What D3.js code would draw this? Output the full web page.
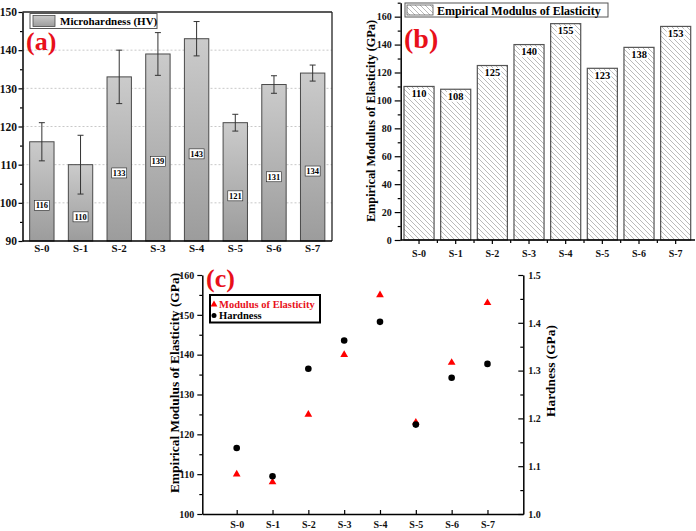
<!DOCTYPE html>
<html>
<head>
<meta charset="utf-8">
<script src="https://cdn.jsdelivr.net/npm/d3@7"></script>
<style>
  body { margin: 0; background: #fff; }
  svg { display: block; font-family: "Liberation Serif", "Times New Roman", serif; font-weight: bold; }
</style>
</head>
<body>
<svg id="canvas" width="696" height="531"></svg>
<script>
// samples
let samples = ['S-0', 'S-1', 'S-2', 'S-3', 'S-4', 'S-5', 'S-6', 'S-7']
// (a) microhardness HV with error
let hvValues = [116, 110, 133, 139, 143, 121, 131, 134]
let hvErrors = [5, 7.7, 7, 5.6, 4.5, 2.2, 2.3, 2.1]
// (b) empirical modulus of elasticity (GPa)
let modulusValues = [110, 108, 125, 140, 155, 123, 138, 153]
// (c) hardness in GPa
let hardnessGPa = [1.138, 1.079, 1.304, 1.363, 1.402, 1.187, 1.285, 1.314]

let ticksA = [90, 100, 110, 120, 130, 140, 150]
let ticksB = [0, 20, 40, 60, 80, 100, 120, 140, 160]
let ticksCLeft = [100, 110, 120, 130, 140, 150, 160]
let ticksCRight = [1.0, 1.1, 1.2, 1.3, 1.4, 1.5]

let canvas = d3.select('#canvas')
let red = '#e8101a'

let defs = canvas.append('defs')
let grad = defs.append('linearGradient').attr('id', 'barGrad')
  .attr('x1', 0).attr('y1', 0).attr('x2', 0).attr('y2', 1)
grad.append('stop').attr('offset', '0%').attr('stop-color', '#cbcbcb')
grad.append('stop').attr('offset', '100%').attr('stop-color', '#9c9c9c')
let hatch = defs.append('pattern').attr('id', 'hatch')
  .attr('patternUnits', 'userSpaceOnUse').attr('width', 5).attr('height', 5)
hatch.append('path').attr('d', 'M0,0L5,5M-1,4L1,6M4,-1L6,1')
  .attr('stroke', '#a8a8a8').attr('stroke-width', 0.8)

let styleAxis = (g, size) => {
  g.attr('font-family', null).attr('font-size', null)
  g.selectAll('path').attr('stroke', '#000').attr('stroke-width', 1.5)
  g.selectAll('line').attr('stroke', '#000').attr('stroke-width', 1.2)
  g.selectAll('text').attr('font-family', '"Liberation Serif", serif')
    .attr('font-weight', 'bold').attr('font-size', size).attr('fill', '#111')
}

let minorVals = (lo, hi, step) => d3.range(lo, hi + step / 2, step)

// ---------------- panel (a) ----------------
let drawA = () => {
  let xA = d3.scaleBand().domain(samples).range([22.5, 332]).paddingInner(0.37).paddingOuter(0.185)
  let yA = d3.scaleLinear().domain([90, 150]).range([241, 12])

  canvas.append('g').selectAll('line')
    .data([100, 110, 120, 130, 140]).enter().append('line')
    .attr('x1', 22.5).attr('x2', 332)
    .attr('y1', d => yA(d)).attr('y2', d => yA(d))
    .attr('stroke', '#c8c8c8').attr('stroke-dasharray', '2,2').attr('stroke-width', 1)

  canvas.append('g').selectAll('rect')
    .data(hvValues).enter().append('rect')
    .attr('x', (d, i) => xA(samples[i]))
    .attr('width', xA.bandwidth())
    .attr('y', d => yA(d))
    .attr('height', d => yA(90) - yA(d))
    .attr('fill', 'url(#barGrad)')
    .attr('stroke', '#4a4a4a').attr('stroke-width', 1)

  // error bars
  let eb = canvas.append('g').attr('stroke', '#333').attr('stroke-width', 1)
  hvValues.forEach((v, i) => {
    let cx = xA(samples[i]) + xA.bandwidth() / 2
    eb.append('line').attr('x1', cx).attr('x2', cx).attr('y1', yA(v + hvErrors[i])).attr('y2', yA(v - hvErrors[i]))
    eb.append('line').attr('x1', cx - 3).attr('x2', cx + 3).attr('y1', yA(v + hvErrors[i])).attr('y2', yA(v + hvErrors[i]))
    eb.append('line').attr('x1', cx - 3).attr('x2', cx + 3).attr('y1', yA(v - hvErrors[i])).attr('y2', yA(v - hvErrors[i]))
  })

  // value labels
  let lab = canvas.append('g')
  hvValues.forEach((v, i) => {
    let cx = xA(samples[i]) + xA.bandwidth() / 2
    let cy = (yA(v) + yA(90)) / 2 + 14
    lab.append('rect').attr('x', cx - 7.5).attr('y', cy - 5).attr('width', 15).attr('height', 10)
      .attr('fill', '#fff').attr('stroke', '#222').attr('stroke-width', 0.6)
    lab.append('text').attr('x', cx).attr('y', cy + 3).attr('text-anchor', 'middle')
      .attr('font-size', 8.5).text(v)
  })

  // frame
  canvas.append('line').attr('x1', 22.5).attr('x2', 332).attr('y1', 12).attr('y2', 12).attr('stroke', '#222').attr('stroke-width', 1.3)
  canvas.append('line').attr('x1', 332).attr('x2', 332).attr('y1', 12).attr('y2', 241).attr('stroke', '#222').attr('stroke-width', 1.3)

  let minor = canvas.append('g').attr('transform', 'translate(22.5,0)')
    .call(d3.axisLeft(yA).tickValues(minorVals(95, 145, 10)).tickSize(2.5).tickFormat(''))
  minor.select('.domain').remove()
  styleAxis(minor, 11)
  let ax = canvas.append('g').attr('transform', 'translate(22.5,0)')
    .call(d3.axisLeft(yA).tickValues(ticksA).tickSize(4).tickSizeOuter(0).tickPadding(1.5))
  styleAxis(ax, 11.5)
  let bx = canvas.append('g').attr('transform', 'translate(0,241)')
    .call(d3.axisBottom(xA).tickSize(0).tickPadding(3.5))
  styleAxis(bx, 11)
  bx.select('.domain').attr('d', 'M22.5,0H332')

  // legend
  let lg = canvas.append('g')
  lg.append('rect').attr('x', 30).attr('y', 13.5).attr('width', 127).attr('height', 15)
    .attr('fill', '#fff').attr('stroke', '#555').attr('stroke-width', 1)
  lg.append('rect').attr('x', 33).attr('y', 15.5).attr('width', 22).attr('height', 11)
    .attr('fill', 'url(#barGrad)').attr('stroke', '#4a4a4a').attr('stroke-width', 0.8)
  lg.append('text').attr('x', 60).attr('y', 25).attr('font-size', 11).text('Microhardness (HV)')

  canvas.append('text').attr('x', 26).attr('y', 50).attr('text-anchor', 'start')
    .attr('fill', red).attr('font-size', 26).text('(a)')
}

// ---------------- panel (b) ----------------
let drawB = () => {
  let xB = d3.scaleBand().domain(samples).range([400.7, 694]).paddingInner(0.18).paddingOuter(0.09)
  let yB = d3.scaleLinear().domain([0, 170]).range([240, 2.7])

  canvas.append('g').selectAll('rect')
    .data(modulusValues).enter().append('rect')
    .attr('x', (d, i) => xB(samples[i]))
    .attr('width', xB.bandwidth())
    .attr('y', d => yB(d))
    .attr('height', d => yB(0) - yB(d))
    .attr('fill', 'url(#hatch)')
    .attr('stroke', '#555').attr('stroke-width', 1.2)

  let lab = canvas.append('g')
  modulusValues.forEach((v, i) => {
    let cx = xB(samples[i]) + xB.bandwidth() / 2
    let ty = yB(v) + 10.5
    lab.append('rect').attr('x', cx - 9).attr('y', ty - 8).attr('width', 18).attr('height', 10).attr('fill', '#fff')
    lab.append('text').attr('x', cx).attr('y', ty).attr('text-anchor', 'middle').attr('font-size', 10.5).text(v)
  })

  let minor = canvas.append('g').attr('transform', 'translate(400.7,0)')
    .call(d3.axisLeft(yB).tickValues(minorVals(10, 170, 20)).tickSize(3).tickFormat(''))
  minor.select('.domain').remove()
  styleAxis(minor, 10)
  let ax = canvas.append('g').attr('transform', 'translate(400.7,0)')
    .call(d3.axisLeft(yB).tickValues(ticksB).tickSize(6).tickSizeOuter(0).tickPadding(3))
  styleAxis(ax, 10)

  let bounds = samples.slice(1).map(s => xB(s) - xB.step() * xB.paddingInner() / 2)
  let bminor = canvas.append('g').attr('transform', 'translate(0,240)')
  bminor.selectAll('line').data(bounds).enter().append('line')
    .attr('x1', d => d).attr('x2', d => d).attr('y1', 0).attr('y2', 3)
    .attr('stroke', '#000').attr('stroke-width', 1.2)
  let bx = canvas.append('g').attr('transform', 'translate(0,240)')
    .call(d3.axisBottom(xB).tickSize(4).tickSizeOuter(0).tickPadding(6))
  styleAxis(bx, 10)
  bx.select('.domain').attr('d', 'M400.7,0H695')

  canvas.append('text').attr('transform', 'translate(375,121) rotate(-90)')
    .attr('text-anchor', 'middle').attr('font-size', 12.3).text('Empirical Modulus of Elasticity (GPa)')

  let lg = canvas.append('g')
  lg.append('rect').attr('x', 405).attr('y', 3).attr('width', 203).attr('height', 14)
    .attr('fill', '#fff').attr('stroke', '#555').attr('stroke-width', 1)
  lg.append('rect').attr('x', 407).attr('y', 5).attr('width', 26).attr('height', 10)
    .attr('fill', 'url(#hatch)').attr('stroke', '#555').attr('stroke-width', 0.8)
  lg.append('text').attr('x', 437).attr('y', 14.5).attr('font-size', 12).text('Empirical Modulus of Elasticity')

  canvas.append('text').attr('x', 404).attr('y', 48).attr('fill', red).attr('font-size', 28).text('(b)')
}

// ---------------- panel (c) ----------------
let drawC = () => {
  let xC = d3.scaleLinear().domain([-0.96, 8]).range([202.3, 523.3])
  let yL = d3.scaleLinear().domain([100, 160]).range([514, 275])
  let yR = d3.scaleLinear().domain([1.0, 1.5]).range([514, 275])

  // left axis
  let lminor = canvas.append('g').attr('transform', 'translate(202.3,0)')
    .call(d3.axisLeft(yL).tickValues(minorVals(105, 155, 10)).tickSize(3).tickFormat(''))
  lminor.select('.domain').remove()
  styleAxis(lminor, 10)
  let la = canvas.append('g').attr('transform', 'translate(202.3,0)')
    .call(d3.axisLeft(yL).tickValues(ticksCLeft).tickSize(5).tickSizeOuter(0).tickPadding(3))
  styleAxis(la, 10)

  // right axis, ticks inward
  let rminor = canvas.append('g').attr('transform', 'translate(523.3,0)')
    .call(d3.axisRight(yR).tickValues(minorVals(1.05, 1.45, 0.1)).tickSizeInner(-3).tickFormat(''))
  rminor.select('.domain').remove()
  styleAxis(rminor, 10)
  let ra = canvas.append('g').attr('transform', 'translate(523.3,0)')
    .call(d3.axisRight(yR).tickValues(ticksCRight).tickSizeInner(-5).tickSizeOuter(0).tickPadding(5).tickFormat(d3.format('.1f')))
  styleAxis(ra, 10)

  // bottom axis, ticks inward
  let ba = canvas.append('g').attr('transform', 'translate(0,514)')
    .call(d3.axisBottom(xC).tickValues(d3.range(samples.length)).tickSizeInner(-4).tickSizeOuter(0).tickPadding(7)
      .tickFormat(i => samples[i]))
  styleAxis(ba, 10)

  // points
  canvas.append('g').selectAll('path')
    .data(modulusValues).enter().append('path')
    .attr('transform', (d, i) => 'translate(' + xC(i) + ',' + yL(d) + ')')
    .attr('d', d3.symbol().type(d3.symbolTriangle).size(26))
    .attr('fill', '#f00')
  canvas.append('g').selectAll('circle')
    .data(hardnessGPa).enter().append('circle')
    .attr('cx', (d, i) => xC(i)).attr('cy', d => yR(d)).attr('r', 3.3)
    .attr('fill', '#000')

  canvas.append('text').attr('transform', 'translate(178.5,383) rotate(-90)')
    .attr('text-anchor', 'middle').attr('font-size', 13.4).text('Empirical Modulus of Elasticity (GPa)')
  canvas.append('text').attr('transform', 'translate(554.5,371) rotate(-90)')
    .attr('text-anchor', 'middle').attr('font-size', 13.4).text('Hardness (GPa)')

  let lg = canvas.append('g')
  lg.append('rect').attr('x', 210).attr('y', 295).attr('width', 110).attr('height', 27.5)
    .attr('fill', '#fff').attr('stroke', '#000').attr('stroke-width', 2)
  lg.append('path').attr('transform', 'translate(214,304.5)')
    .attr('d', d3.symbol().type(d3.symbolTriangle).size(20)).attr('fill', '#f00')
  lg.append('text').attr('x', 219).attr('y', 308).attr('font-size', 10.5).attr('fill', red).text('Modulus of Elasticity')
  lg.append('circle').attr('cx', 214).attr('cy', 315.5).attr('r', 2.5).attr('fill', '#000')
  lg.append('text').attr('x', 219).attr('y', 319).attr('font-size', 10.5).text('Hardness')

  canvas.append('text').attr('x', 206).attr('y', 287).attr('fill', red).attr('font-size', 26).text('(c)')
}

drawA()
drawB()
drawC()
</script>
</body>
</html>
